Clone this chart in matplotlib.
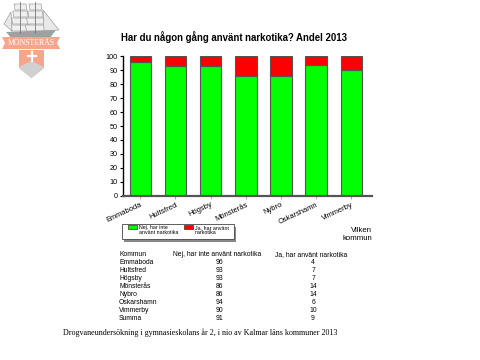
import matplotlib.pyplot as plt
from matplotlib.patches import Polygon, Rectangle

plt.rcParams['font.family'] = ['Liberation Sans', 'DejaVu Sans']

# data
kommuner = ['Emmaboda', 'Hultsfred', 'Högsby', 'Mönsterås', 'Nybro', 'Oskarshamn', 'Vimmerby']
nej = [96, 93, 93, 86, 86, 94, 90]
ja = [4, 7, 7, 14, 14, 6, 10]
summa_nej = 91
summa_ja = 9
serie_namn = ['Nej, har inte\nanvänt narkotika', 'Ja, har använt\nnarkotika']
tabell_rubrik = ['Kommun', 'Nej, har inte använt narkotika', 'Ja, har använt narkotika']
titel = 'Har du någon gång använt narkotika? Andel 2013'
fotnot = 'Drogvaneundersökning i gymnasieskolans år 2, i nio av Kalmar läns kommuner 2013'

GREEN = '#00ff00'
RED = '#ff0000'
SALMON = '#f7a58c'

fig = plt.figure(figsize=(4.8, 3.6), dpi=100)


def px(x, y):
    # pixel coords (from top-left) -> figure fraction
    return x / 480, 1 - y / 360


# ---- chart ----
ax = fig.add_axes([122.7 / 480, 1 - 195.7 / 360, 249 / 480, 140 / 360])
x = list(range(len(kommuner)))
ax.bar(x, nej, width=0.61, color=GREEN, edgecolor='#555555', linewidth=0.8)
ax.bar(x, ja, bottom=nej, width=0.61, color=RED, edgecolor='#555555', linewidth=0.8)
ax.set_xlim(-0.5, 6.58)
ax.set_ylim(0, 100.5)
ax.set_yticks(range(0, 101, 10))
ax.tick_params(axis='y', labelsize=5.2, length=2.5, width=0.8, pad=1)
ax.set_xticks(x)
ax.set_xticklabels(kommuner, rotation=25, ha='right', rotation_mode='anchor', fontsize=5.4)
ax.tick_params(axis='x', length=2, width=0.5, pad=2, color='#888888')
for s in ['top', 'right']:
    ax.spines[s].set_visible(False)
ax.spines['left'].set_linewidth(1.0)
ax.spines['bottom'].set_linewidth(1.6)
ax.spines['bottom'].set_color('#555555')

fig.text(*px(234, 37), titel, fontsize=6.9, fontweight='bold', ha='center', va='center')

# legend box with shadow
lx0, ly0 = px(122, 239)
lw, lh = 112 / 480, 15 / 360
fig.patches.append(Rectangle((lx0 + 0.004, ly0 - 0.007), lw, lh, transform=fig.transFigure,
                             facecolor='#888888', edgecolor='none'))
fig.patches.append(Rectangle((lx0, ly0), lw, lh, transform=fig.transFigure,
                             facecolor='white', edgecolor='#444444', linewidth=0.6))
for i, (namn, col) in enumerate(zip(serie_namn, [GREEN, RED])):
    bx = 128 + i * 56
    fig.patches.append(Rectangle(px(bx, 229.5), 9 / 480, 4 / 360,
                                 transform=fig.transFigure, facecolor=col,
                                 edgecolor='#333333', linewidth=0.5))
    fig.text(*px(bx + 11, 230), namn, fontsize=3.8, ha='left', va='center', linespacing=1.1)

fig.text(*px(372, 235), 'Vilken\nkommun', fontsize=5.6, ha='right', va='center', linespacing=1.2)

# ---- table ----
rader = kommuner + ['Summa']
v_nej = nej + [summa_nej]
v_ja = ja + [summa_ja]
fs = 4.9
fig.text(*px(119, 255), tabell_rubrik[0], fontsize=fs, ha='left', va='center')
fig.text(*px(173, 255), tabell_rubrik[1], fontsize=fs, ha='left', va='center')
fig.text(*px(275, 255), tabell_rubrik[2], fontsize=fs, ha='left', va='center')
for i, (r, a, b) in enumerate(zip(rader, v_nej, v_ja)):
    yy = 263 + i * 8
    fig.text(*px(119, yy), r, fontsize=fs, ha='left', va='center')
    fig.text(*px(219, yy), str(a), fontsize=fs, ha='center', va='center')
    fig.text(*px(313, yy), str(b), fontsize=fs, ha='center', va='center')

fig.text(*px(200, 333), fotnot, fontsize=5.8, family='Liberation Serif', ha='center', va='center')

# ---- logo ----
lg = fig.add_axes([0, 1 - 80 / 360, 62 / 480, 80 / 360])
lg.set_xlim(0, 62)
lg.set_ylim(80, 0)
lg.axis('off')
# masts and sails
for mx in (20, 35):
    lg.plot([mx, mx], [2, 33], color='#777777', lw=0.6)
    for k in range(4):
        y0 = 4 + k * 7
        w = 6 + k * 1.2
        lg.add_patch(Polygon([(mx - w, y0), (mx + w, y0), (mx + w + 1, y0 + 6),
                              (mx - w + 1, y0 + 6)], closed=True, facecolor='#f0f0f0',
                             edgecolor='#8a8a8a', linewidth=0.4))
lg.add_patch(Polygon([(43, 10), (59, 30), (44, 31)], closed=True, facecolor='#e8e8e8',
                     edgecolor='#8a8a8a', linewidth=0.4))
lg.add_patch(Polygon([(4, 24), (11, 12), (12, 31)], closed=True, facecolor='#e8e8e8',
                     edgecolor='#8a8a8a', linewidth=0.4))
# ship hull
lg.add_patch(Polygon([(6, 32), (56, 30), (50, 38), (12, 39)], closed=True,
                     facecolor='#a0a0a0', edgecolor='none'))
# banner
lg.add_patch(Polygon([(2, 37), (60, 37), (57, 43), (60, 49), (2, 49), (5, 43)], closed=True,
                     facecolor=SALMON, edgecolor='none'))
lg.text(31, 43, 'MÖNSTERÅS', fontsize=5.6, family='Liberation Serif', color='white',
        ha='center', va='center')
# shield
lg.add_patch(Polygon([(19, 50), (44, 50), (44, 68), (31.5, 78), (19, 68)], closed=True,
                     facecolor=SALMON, edgecolor='none'))
lg.add_patch(Polygon([(19, 67), (31.5, 61), (44, 67), (44, 68), (31.5, 78), (19, 68)],
                     closed=True, facecolor='#d0d0d0', edgecolor='none'))
lg.plot([31.5, 31.5], [52, 61], color='white', lw=1.6)
lg.plot([27.5, 35.5], [56, 56], color='white', lw=1.6)

fig.savefig('out.png', dpi=100)
